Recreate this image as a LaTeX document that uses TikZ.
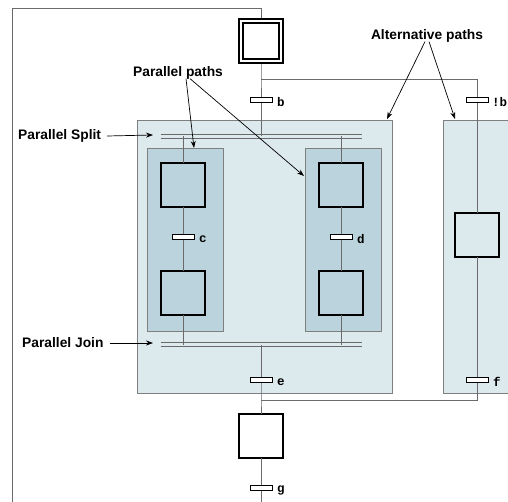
\documentclass[tikz,border=0pt]{standalone}
\usepackage{fontspec}
\setmainfont{Liberation Sans}
\newfontfamily\monofont{Liberation Mono}
\usetikzlibrary{arrows.meta}
\definecolor{outerfill}{HTML}{DCE9ED}
\definecolor{innerfill}{HTML}{BBD3DC}
\definecolor{framegray}{HTML}{7F7F7F}
\definecolor{linegray}{HTML}{6A6A6A}
\tikzset{
  stepbox/.style={draw=black, line width=1.2pt, minimum width=44pt, minimum height=44pt, inner sep=0pt, outer sep=0pt},
  trans/.style={draw=black, fill=white, line width=1pt, minimum width=22pt, minimum height=5pt, inner sep=0pt, outer sep=0pt},
  tlabel/.style={font=\monofont\bfseries\fontsize{12.5}{12.5}\selectfont, anchor=west, inner sep=0pt},
  conn/.style={draw=linegray, line width=0.9pt},
  outerbox/.style={fill=outerfill, draw=framegray, line width=0.9pt},
  innerbox/.style={fill=innerfill, draw=framegray, line width=0.9pt},
  dbar/.style={draw=linegray, line width=1.3pt},
  callout/.style={font=\bfseries\fontsize{13.8}{14}\selectfont, inner sep=0pt},
  pointer/.style={draw=black, line width=0.7pt, -{Stealth[length=7pt,width=5pt]}}
}
\begin{document}
\begin{tikzpicture}[x=1pt,y=-1pt]
\useasboundingbox (0,0) rectangle (508,502);
% containers
\path[outerbox] (137,120) rectangle (392,393);
\fill[outerfill] (443,120) rectangle (508,393);
\draw[framegray, line width=0.9pt] (508,120) -- (443,120) -- (443,393) -- (508,393);
\path[innerbox] (147,148) rectangle (223,331);
\path[innerbox] (305,148) rectangle (381,331);
% coordinates
\coordinate (top) at (261,8);
\coordinate (topl) at (12,8);
\coordinate (botl) at (12,502);
\coordinate (bot) at (261,502);
\coordinate (fork) at (261,79);
\coordinate (forkr) at (477,79);
\coordinate (merge) at (261,400);
\coordinate (merger) at (477,400);
\coordinate (splitL) at (161,136.5);
\coordinate (splitR) at (362,136.5);
\coordinate (splitC) at (261,136.5);
\coordinate (splitA) at (183,136.5);
\coordinate (splitB) at (341,136.5);
\coordinate (joinL) at (161,344.5);
\coordinate (joinR) at (362,344.5);
\coordinate (joinC) at (261,344.5);
\coordinate (joinA) at (183,344.5);
\coordinate (joinB) at (341,344.5);
% steps
\node[stepbox, draw=none] (init) at (261,41) {};
\node[stepbox] (s1) at (183,185) {};
\node[stepbox] (s2) at (183,293) {};
\node[stepbox] (s3) at (341,185) {};
\node[stepbox] (s4) at (341,293) {};
\node[stepbox] (s5) at (477,235) {};
\node[stepbox, fill=white] (s6) at (261,436) {};
% transitions
\node[trans] (tb) at (261,100) {};
\node[trans] (tnb) at (477,100) {};
\node[trans] (tc) at (183,237) {};
\node[trans] (td) at (341,237) {};
\node[trans] (te) at (261,380) {};
\node[trans] (tf) at (477,380) {};
\node[trans] (tg) at (261,488) {};
% connectors
\draw[conn] (bot) -- (botl) -- (topl) -- (top) -- (init.north);
\draw[conn] (init.south) -- (fork) -- (tb.north);
\draw[conn] (fork) -- (forkr) -- (tnb.north);
\draw[conn] (tb.south) -- (splitC);
\draw[conn] (splitA) -- (s1.north);
\draw[conn] (s1.south) -- (tc.north);
\draw[conn] (tc.south) -- (s2.north);
\draw[conn] (s2.south) -- (joinA);
\draw[conn] (splitB) -- (s3.north);
\draw[conn] (s3.south) -- (td.north);
\draw[conn] (td.south) -- (s4.north);
\draw[conn] (s4.south) -- (joinB);
\draw[conn] (joinC) -- (te.north);
\draw[conn] (te.south) -- (merge) -- (s6.north);
\draw[conn] (tnb.south) -- (s5.north);
\draw[conn] (s5.south) -- (tf.north);
\draw[conn] (tf.south) -- (merger) -- (merge);
\draw[conn] (s6.south) -- (tg.north);
\draw[conn] (tg.south) -- (bot);
% initial step (double frame)
\draw[black, line width=1.2pt] (239,19) rectangle (283,63);
\draw[black, line width=1.2pt] (243,23) rectangle (279,59);
% transitions on top of lines
\node[trans] at (261,100) {};
\node[trans] at (477,100) {};
\node[trans] at (183,237) {};
\node[trans] at (341,237) {};
\node[trans] at (261,380) {};
\node[trans] at (477,380) {};
\node[trans] at (261,488) {};
% double bars
\draw[dbar] ([yshift=-1.7pt]splitL) -- ([yshift=-1.7pt]splitR);
\draw[dbar] ([yshift=1.7pt]splitL) -- ([yshift=1.7pt]splitR);
\draw[dbar] ([yshift=-1.7pt]joinL) -- ([yshift=-1.7pt]joinR);
\draw[dbar] ([yshift=1.7pt]joinL) -- ([yshift=1.7pt]joinR);
% transition labels
\node[tlabel] (lb) at (277,102) {b};
\node[tlabel] (lnb) at (492,102) {!b};
\node[tlabel] (lc) at (199,239) {c};
\node[tlabel] (ld) at (357,239) {d};
\node[tlabel] (le) at (277,382) {e};
\node[tlabel] (lf) at (493,382) {f};
\node[tlabel] (lg) at (277,490) {g};
% callouts
\node[callout] (pp) at (178,73) {Parallel paths};
\node[callout] (ap) at (427,36) {Alternative paths};
\node[callout, anchor=west] (ps) at (18,136) {Parallel Split};
\node[callout, anchor=west] (pj) at (22,343) {Parallel Join};
\coordinate (ppA) at (194,148);
\coordinate (ppB) at (304,176);
\coordinate (apA) at (387,119);
\coordinate (apB) at (455,119);
\coordinate (psT) at (153,135);
\coordinate (pjT) at (153,343);
\draw[pointer] ([xshift=8pt,yshift=1pt]pp.south) -- (ppA);
\draw[pointer] ([xshift=12pt,yshift=1pt]pp.south) -- (ppB);
\draw[pointer] ([xshift=-2pt,yshift=1pt]ap.south) -- (apA);
\draw[pointer] ([xshift=2pt,yshift=1pt]ap.south) -- (apB);
\draw[pointer] ([xshift=6pt]ps.east) -- (psT);
\draw[pointer] ([xshift=6pt]pj.east) -- (pjT);
\end{tikzpicture}
\end{document}
